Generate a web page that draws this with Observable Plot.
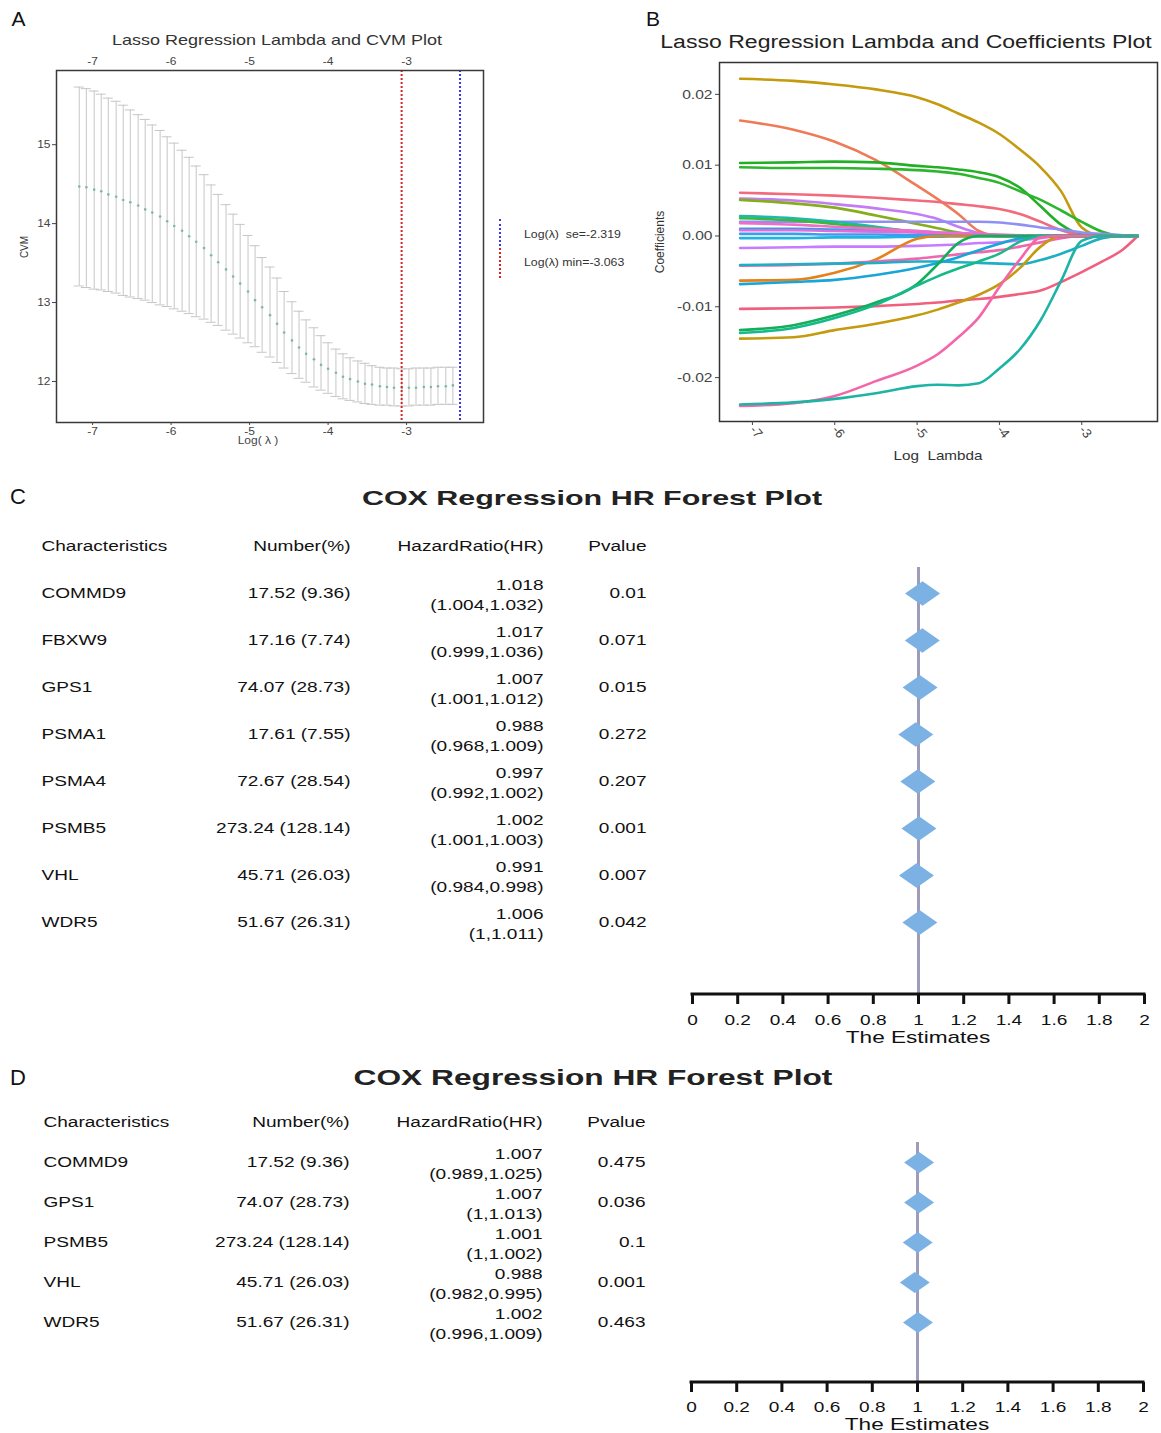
<!DOCTYPE html>
<html><head><meta charset="utf-8">
<script src="https://cdn.jsdelivr.net/npm/d3@7"></script>
<script src="https://cdn.jsdelivr.net/npm/@observablehq/plot@0.6"></script>
<style>
html,body{margin:0;padding:0;background:#fff;}
#root{position:relative;width:1161px;height:1433px;overflow:hidden;background:#fff;}
</style></head><body><div id="root"></div>
<script>
// ---------------- DATA ----------------
// Panel A: cross-validation curve
const cvLogLambda = [-7.17,-7.08,-6.98,-6.89,-6.80,-6.70,-6.61,-6.52,-6.42,-6.33,-6.24,-6.14,-6.05,-5.96,-5.86,-5.77,-5.68,-5.58,-5.49,-5.40,-5.30,-5.21,-5.12,-5.02,-4.93,-4.84,-4.74,-4.65,-4.56,-4.46,-4.37,-4.28,-4.18,-4.09,-4.00,-3.90,-3.81,-3.72,-3.62,-3.53,-3.44,-3.34,-3.25,-3.16,-3.06,-2.97,-2.88,-2.78,-2.69,-2.60,-2.50,-2.41];
const cvMean = [14.47,14.46,14.43,14.41,14.37,14.34,14.30,14.27,14.23,14.18,14.14,14.09,14.03,13.97,13.91,13.84,13.77,13.69,13.60,13.51,13.42,13.33,13.24,13.14,13.03,12.94,12.84,12.73,12.62,12.52,12.43,12.35,12.28,12.21,12.16,12.11,12.06,12.03,12.00,11.97,11.96,11.94,11.93,11.92,11.92,11.92,11.92,11.93,11.93,11.94,11.94,11.95];
const cvUpper = [15.73,15.71,15.68,15.64,15.59,15.55,15.50,15.44,15.38,15.32,15.25,15.18,15.10,15.02,14.93,14.84,14.73,14.62,14.49,14.37,14.24,14.12,13.99,13.85,13.72,13.57,13.45,13.31,13.14,13.01,12.89,12.78,12.68,12.58,12.49,12.41,12.35,12.30,12.26,12.23,12.20,12.18,12.17,12.17,12.16,12.16,12.17,12.17,12.17,12.18,12.18,12.18];
const cvLower = [13.21,13.19,13.17,13.16,13.14,13.12,13.09,13.07,13.05,13.03,13.00,12.97,12.95,12.92,12.89,12.86,12.82,12.79,12.75,12.71,12.65,12.60,12.55,12.49,12.44,12.37,12.31,12.24,12.17,12.10,12.04,11.99,11.93,11.89,11.85,11.81,11.78,11.76,11.74,11.72,11.71,11.70,11.70,11.69,11.69,11.69,11.70,11.70,11.70,11.71,11.71,11.71];
const cvXTicks = [-7,-6,-5,-4,-3];
const cvYTicks = [12,13,14,15];
const logLambdaSe = -2.319;
const logLambdaMin = -3.063;

// Panel B: coefficient paths
const coefGrid = [-7.15,-6.5,-6,-5.5,-5,-4.75,-4.5,-4.25,-4,-3.75,-3.5,-3.25,-3,-2.75,-2.5,-2.32];
const coefPaths = [
  [.0222,.0219,.0214,.0207,.0196,.0186,.0173,.0160,.0144,.0122,.0097,.0063,.0012,0,0,0],
  [.0163,.0150,.0133,.0107,.0071,.0052,.0031,.0007,0,0,0,0,0,0,0,0],
  [.0103,.0104,.0105,.0104,.0099,.0097,.0094,.0090,.0083,.0068,.0042,.0016,.0002,0,0,0],
  [.0097,.0096,.0096,.0095,.0093,.0091,.0088,.0082,.0075,.0063,.0051,.0036,.0020,.0006,0,0],
  [.0061,.0059,.0057,.0054,.0050,.0048,.0045,.0042,.0038,.0031,.0020,.0008,.0001,0,0,0],
  [.0053,.0050,.0045,.0039,.0031,.0024,.0013,.0004,0,0,0,0,0,0,0,0],
  [.0051,.0046,.0040,.0029,.0017,.0011,.0005,.0001,0,0,0,0,0,0,0,0],
  [.0020,.0020,.0020,.0020,.0020,.0020,.0020,.0020,.0019,.0016,.0012,.0009,.0005,.0003,.0001,0],
  [.0028,.0025,.0020,.0013,.0005,.0001,0,0,0,0,0,0,0,0,0,0],
  [.0025,.0022,.0017,.0011,.0006,.0003,0,0,0,0,0,0,0,0,0,0],
  [.0010,.0010,.0009,.0008,.0007,.0005,.0004,.0002,0,0,0,0,0,0,0,0],
  [.0018,.0016,.0013,.0010,.0007,.0005,.0004,.0003,.0002,.0001,0,0,0,0,0,0],
  [.0008,.0008,.0007,.0006,.0005,.0004,.0003,.0002,.0001,0,0,0,0,0,0,0],
  [-.0003,-.0003,-.0002,-.0002,-.0001,-.0001,0,0,0,0,0,0,0,0,0,0],
  [.0003,.0003,.0002,.0002,.0001,.0001,0,0,0,0,0,0,0,0,0,0],
  [-.0017,-.0016,-.0015,-.0015,-.0014,-.0013,-.0012,-.0010,-.0009,-.0006,-.0003,0,0,0,0,0],
  [-.0063,-.0062,-.0052,-.0033,-.0004,0,0,0,0,0,0,0,0,0,0,0],
  [-.0042,-.0041,-.0039,-.0036,-.0032,-.0029,-.0026,-.0023,-.0020,-.0015,-.0009,-.0003,0,0,0,0],
  [-.0041,-.0040,-.0039,-.0038,-.0036,-.0036,-.0037,-.0038,-.0039,-.0040,-.0034,-.0025,-.0014,-.0003,0,0],
  [-.0068,-.0065,-.0062,-.0055,-.0045,-.0038,-.0030,-.0020,-.0011,-.0003,0,0,0,0,0,0],
  [-.0103,-.0102,-.0101,-.0099,-.0096,-.0094,-.0091,-.0089,-.0086,-.0082,-.0077,-.0065,-.0051,-.0036,-.0019,0],
  [-.0133,-.0126,-.0112,-.0094,-.0068,-.0040,-.0010,0,0,0,0,0,0,0,0,0],
  [-.0137,-.0130,-.0116,-.0097,-.0070,-.0057,-.0046,-.0036,-.0025,-.0008,0,0,0,0,0,0],
  [-.0145,-.0143,-.0133,-.0124,-.0112,-.0104,-.0094,-.0083,-.0068,-.0045,-.0015,0,0,0,0,0],
  [-.0240,-.0236,-.0226,-.0205,-.0183,-.0167,-.0143,-.0115,-.0072,-.0033,-.0002,0,0,0,0,0],
  [-.0238,-.0235,-.0230,-.0222,-.0212,-.0210,-.0211,-.0208,-.0187,-.0160,-.0119,-.0063,-.0007,0,0,0]
];
const coefColors = ["#C49A0E","#EE7B55","#22AF26","#2DB52D","#F26B7D","#C27CF6","#86AD1C","#8F90F5","#1FB8B4","#3CB83C","#1EA7EE","#F46DC4","#E86AD8","#21B4E2","#3C9CF0","#C77CFF","#E5801A","#F066B0","#1FAFC4","#17A6D8","#F0607E","#12AE5A","#16B98A","#C49A0E","#F566A8","#1DB3A5"];
const coefXTicks = [-7,-6,-5,-4,-3];
const coefYTicks = [-0.02,-0.01,0,0.01,0.02];

// Panels C & D: COX tables
const tableHeaders = ["Characteristics","Number(%)","HazardRatio(HR)","Pvalue"];
const genesC = ["COMMD9","FBXW9","GPS1","PSMA1","PSMA4","PSMB5","VHL","WDR5"];
const numbersC = ["17.52 (9.36)","17.16 (7.74)","74.07 (28.73)","17.61 (7.55)","72.67 (28.54)","273.24 (128.14)","45.71 (26.03)","51.67 (26.31)"];
const hrC = [1.018,1.017,1.007,0.988,0.997,1.002,0.991,1.006];
const ciLowC = [1.004,0.999,1.001,0.968,0.992,1.001,0.984,1];
const ciHighC = [1.032,1.036,1.012,1.009,1.002,1.003,0.998,1.011];
const pC = ["0.01","0.071","0.015","0.272","0.207","0.001","0.007","0.042"];
const genesD = ["COMMD9","GPS1","PSMB5","VHL","WDR5"];
const numbersD = ["17.52 (9.36)","74.07 (28.73)","273.24 (128.14)","45.71 (26.03)","51.67 (26.31)"];
const hrD = [1.007,1.007,1.001,0.988,1.002];
const ciLowD = [0.989,1,1,0.982,0.996];
const ciHighD = [1.025,1.013,1.002,0.995,1.009];
const pD = ["0.475","0.036","0.1","0.001","0.463"];
const hrTicks = [0,0.2,0.4,0.6,0.8,1,1.2,1.4,1.6,1.8,2];
const hrReference = 1;

// ---------------- HELPERS ----------------
const FONT = '"Liberation Sans", Arial, Helvetica, sans-serif';
const root = document.getElementById("root");
function put(svg, left, top, w) {
  const d = document.createElement("div");
  d.style.cssText = `position:absolute;left:${left}px;top:${top}px;width:${w}px;`;
  svg.style.maxWidth = "none";
  d.appendChild(svg);
  root.appendChild(d);
}
function txt(s, x, y, o = {}) {
  const d = document.createElement("div");
  d.textContent = s;
  const start = o.anchor === "start";
  d.style.cssText = `position:absolute;left:${x}px;top:${y}px;white-space:pre;line-height:1;` +
    `font-family:${o.family || FONT};font-size:${o.size || 12}px;font-weight:${o.weight || 400};color:${o.color || "#222"};` +
    `transform-origin:${start ? "left center" : "center center"};` +
    `transform:translate(${start ? "0" : "-50%"},-50%) ${o.rotate ? `rotate(${o.rotate}deg)` : ""} ${o.sx ? `scaleX(${o.sx})` : ""};`;
  root.appendChild(d);
  return d;
}
function stretchText(svg, s) {
  svg.querySelectorAll("text").forEach(t => {
    const tr = t.getAttribute("transform") || "";
    if (/rotate/.test(tr)) return;
    const x = parseFloat(t.getAttribute("x")) || 0;
    t.setAttribute("transform", `${tr} translate(${x},0) scale(${s},1) translate(${-x},0)`);
  });
}
const hyphen = d => String(d);

// ---------------- PANEL A ----------------
const cvRows = cvLogLambda.map((l, i) => ({l, m: cvMean[i], up: cvUpper[i], lo: cvLower[i]}));
const plotA = Plot.plot({
  width: 500, height: 410,
  marginLeft: 56, marginRight: 17, marginTop: 20, marginBottom: 38,
  x: {domain: [-7.46, -2.02]},
  y: {domain: [11.48, 15.94]},
  style: {fontFamily: FONT, fontSize: "10px", color: "#444", background: "transparent", overflow: "visible"},
  marks: [
    Plot.ruleX(cvRows, {x: "l", y1: "lo", y2: "up", stroke: "#c6c6c6", strokeWidth: 1}),
    Plot.ruleY(cvRows, {y: "up", x1: "l", x2: "l", insetLeft: -5, insetRight: -5, stroke: "#c6c6c6"}),
    Plot.ruleY(cvRows, {y: "lo", x1: "l", x2: "l", insetLeft: -5, insetRight: -5, stroke: "#c6c6c6"}),
    Plot.dot(cvRows, {x: "l", y: "m", r: 1.3, fill: "#7db8a2", stroke: null}),
    Plot.ruleX([logLambdaMin], {stroke: "#d92525", strokeWidth: 2, strokeDasharray: "2 2"}),
    Plot.ruleX([logLambdaSe], {stroke: "#3636e6", strokeWidth: 2, strokeDasharray: "2 2"}),
    Plot.frame({stroke: "#3a3a3a", strokeWidth: 1.5}),
    Plot.axisX({anchor: "top", ticks: cvXTicks, tickSize: 0, tickPadding: 6, tickFormat: hyphen, label: null}),
    Plot.axisX({anchor: "bottom", ticks: cvXTicks, tickSize: 3, tickPadding: 2, tickFormat: hyphen, label: null}),
    Plot.axisY({anchor: "left", ticks: cvYTicks, tickSize: 4, tickPadding: 2, tickFormat: hyphen, label: null})
  ]
});
stretchText(plotA, 1.2);
put(plotA, 0, 50, 500);

// ---------------- PANEL B ----------------
const plotB = Plot.plot({
  width: 521, height: 415,
  marginLeft: 79, marginRight: 4, marginTop: 12, marginBottom: 44,
  x: {domain: [-7.40, -2.08]},
  y: {domain: [-0.0262, 0.0245]},
  style: {fontFamily: FONT, fontSize: "13px", color: "#444", background: "transparent", overflow: "visible"},
  marks: [
    ...coefPaths.map((vals, k) => Plot.line(coefGrid, {x: d => d, y: (d, i) => vals[i], stroke: coefColors[k], strokeWidth: 2.6, curve: "monotone-x"})),
    Plot.frame({stroke: "#333", strokeWidth: 1.5}),
    Plot.axisX({ticks: coefXTicks, tickSize: 4, tickPadding: 2, tickRotate: 50, tickFormat: hyphen, label: null}),
    Plot.axisY({ticks: coefYTicks, tickSize: 4, tickPadding: 3, tickFormat: d => d.toFixed(2), label: null})
  ]
});
stretchText(plotB, 1.2);
put(plotB, 640, 50, 521);

// ---------------- PANELS C & D ----------------
const wideDiamond = {
  draw(ctx, size) {
    const r = Math.sqrt(size / Math.PI), h = r * 0.7;
    ctx.moveTo(-r, 0); ctx.lineTo(0, -h); ctx.lineTo(r, 0); ctx.lineTo(0, h); ctx.closePath();
  }
};
function forest(o) {
  const rows = o.genes.map((g, i) => ({key: g, n: o.numbers[i], hr: o.hr[i], ci: `${o.hr[i]}\n(${o.lo[i]},${o.hi[i]})`, p: o.p[i]}));
  const head = {key: tableHeaders[0], n: tableHeaders[1], ci: tableHeaders[2], p: tableHeaders[3]};
  const table = [head, ...rows];
  const axisLine = (index, scales, values, dims) => {
    const y0 = dims.height - dims.marginBottom;
    return d3.create("svg:line")
      .attr("x1", scales.x(hrTicks[0]) - 1.5).attr("x2", scales.x(hrTicks[hrTicks.length - 1]) + 1.5)
      .attr("y1", y0).attr("y2", y0).attr("stroke", "#111").attr("stroke-width", 3).node();
  };
  const svg = Plot.plot({
    width: 1161, height: o.height,
    marginTop: o.marginTop, marginBottom: o.marginBottom, marginLeft: o.marginLeft, marginRight: o.marginRight,
    x: {domain: [hrTicks[0], hrTicks[hrTicks.length - 1]]},
    y: {type: "point", domain: table.map(d => d.key), range: o.yRange, padding: 0, axis: null},
    style: {fontFamily: FONT, fontSize: "14px", color: "#111", background: "transparent", overflow: "visible"},
    marks: [
      Plot.ruleX([hrReference], {stroke: "#9d9cba", strokeWidth: 3}),
      Plot.dot(rows, {x: "hr", y: "key", r: o.r, symbol: wideDiamond, fill: "#7cb1e3", stroke: null}),
      Plot.text(table, {y: "key", text: "key", frameAnchor: "left", dx: o.dxGene, textAnchor: "start", fill: "#111"}),
      Plot.text(table, {y: "key", text: "n", frameAnchor: "left", dx: o.dxNum, textAnchor: "end", fill: "#111"}),
      Plot.text([head], {y: "key", text: "ci", frameAnchor: "left", dx: o.dxHr, textAnchor: "end", fill: "#111"}),
      Plot.text(rows, {y: "key", text: "ci", frameAnchor: "left", dx: o.dxHr, textAnchor: "end", lineHeight: 1.43, fill: "#111"}),
      Plot.text(table, {y: "key", text: "p", frameAnchor: "left", dx: o.dxP, textAnchor: "end", fill: "#111"}),
      axisLine,
      Plot.axisX({ticks: hrTicks, tickSize: 10, tickPadding: o.tickPadding, strokeWidth: 3, tickFormat: hyphen, label: null})
    ]
  });
  stretchText(svg, 1.36);
  put(svg, 0, o.top, 1161);
}
forest({genes: genesC, numbers: numbersC, hr: hrC, lo: ciLowC, hi: ciHighC, p: pC,
  top: 520, height: 535, marginTop: 47, marginBottom: 61, marginLeft: 692, marginRight: 17,
  yRange: [24, 403], r: 17.5, dxGene: -651, dxNum: -342, dxHr: -149, dxP: -46, tickPadding: 11});
forest({genes: genesD, numbers: numbersD, hr: hrD, lo: ciLowD, hi: ciHighD, p: pD,
  top: 1100, height: 333, marginTop: 42, marginBottom: 51, marginLeft: 691, marginRight: 18,
  yRange: [22, 222], r: 15, dxGene: -648, dxNum: -342, dxHr: -149, dxP: -46, tickPadding: 10});

// ---------------- TEXT ----------------
txt("A", 18.5, 17.5, {size: 21, color: "#111"});
txt("Lasso Regression Lambda and CVM Plot", 277, 39, {size: 15, sx: 1.2, color: "#333"});
txt("CVM", 25, 247, {size: 10, rotate: -90, color: "#333"});
txt("Log( λ )", 258, 441, {size: 10, sx: 1.2, color: "#444"});
const legBlue = document.createElement("div");
legBlue.style.cssText = "position:absolute;left:499px;top:219px;height:27px;border-left:2px dotted #3a3ae6;";
root.appendChild(legBlue);
const legRed = document.createElement("div");
legRed.style.cssText = "position:absolute;left:499px;top:248px;height:30px;border-left:2px dotted #d92525;";
root.appendChild(legRed);
txt(`Log(λ)  se=${logLambdaSe}`, 524, 234, {size: 11, anchor: "start", sx: 1.12, color: "#333"});
txt(`Log(λ) min=${logLambdaMin}`, 524, 262, {size: 11, anchor: "start", sx: 1.12, color: "#333"});

txt("B", 653, 17.5, {size: 21, color: "#111"});
txt("Lasso Regression Lambda and Coefficients Plot", 906, 42, {size: 18, sx: 1.28, color: "#222"});
txt("Coefficients", 660, 242, {size: 12, rotate: -90, color: "#333"});
txt("Log  Lambda", 938, 455, {size: 13, sx: 1.17, color: "#333"});

txt("C", 18, 497, {size: 22, color: "#111"});
txt("COX Regression HR Forest Plot", 592, 497, {size: 21, weight: 700, sx: 1.45, color: "#222"});
txt("The Estimates", 918, 1037, {size: 17, sx: 1.33, color: "#111"});

txt("D", 18, 1078, {size: 22, color: "#111"});
txt("COX Regression HR Forest Plot", 593, 1078, {size: 22, weight: 700, sx: 1.44, color: "#222"});
txt("The Estimates", 917, 1424, {size: 17, sx: 1.33, color: "#111"});
</script></body></html>
